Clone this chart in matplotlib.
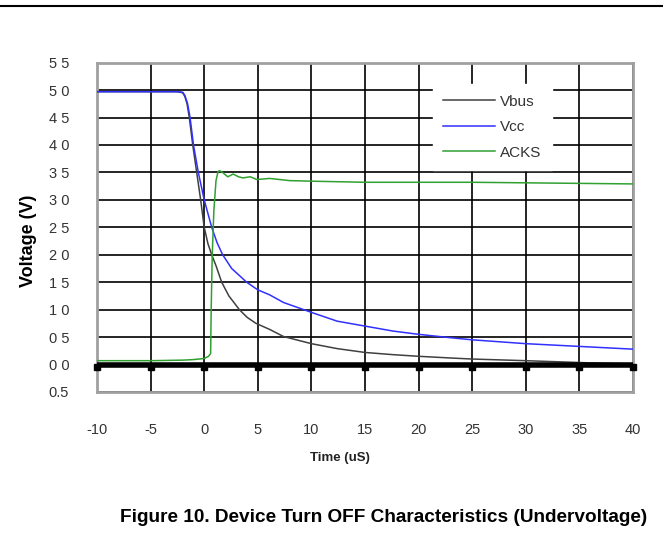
import matplotlib
matplotlib.use("Agg")
import matplotlib.pyplot as plt
import matplotlib.transforms as mtransforms
from matplotlib.lines import Line2D

plt.rcParams['font.family'] = ['Liberation Sans', 'DejaVu Sans']
plt.rcParams['axes.unicode_minus'] = False

# data (time in uS, voltage in V)
vbus_t = [-10, -5, -2.5, -2.0, -1.8, -1.6, -1.39, -1.07, -0.7, -0.33, 0.0, 0.35, 0.7,
          1.1, 1.63, 2.3, 3.28, 4.0, 4.83, 6.1, 7.4, 10, 12.4, 15, 17.6, 20, 22.9,
          25, 30, 33, 36, 40]
vbus_v = [4.97, 4.97, 4.97, 4.95, 4.88, 4.75, 4.5, 4.0, 3.5, 3.0, 2.5, 2.2, 2.0,
          1.8, 1.5, 1.25, 1.0, 0.86, 0.75, 0.64, 0.51, 0.38, 0.29, 0.22, 0.18, 0.15, 0.12,
          0.1, 0.07, 0.05, 0.03, 0.01]

vcc_t = [-10, -5, -2.5, -2.0, -1.8, -1.55, -1.32, -1.0, -0.55, 0.0, 0.35, 0.7, 1.2,
         1.72, 2.56, 3.96, 5.0, 6.1, 7.4, 10, 12.4, 15, 17.6, 20, 22.9, 25, 30, 35, 40]
vcc_v = [4.97, 4.97, 4.97, 4.96, 4.9, 4.75, 4.5, 4.0, 3.5, 3.0, 2.75, 2.5, 2.22,
         2.0, 1.75, 1.5, 1.36, 1.27, 1.13, 0.95, 0.79, 0.70, 0.61, 0.55, 0.49, 0.45, 0.38, 0.33, 0.28]

acks_t = [-10, -5, -2, -1, 0, 0.4, 0.6, 0.65, 0.75, 0.9, 1.1, 1.3, 1.45, 1.7, 2.2,
          2.7, 3.2, 3.6, 4.3, 4.9, 6.1, 8, 10, 15, 20, 25, 30, 35, 40]
acks_v = [0.07, 0.07, 0.08, 0.09, 0.11, 0.15, 0.2, 1.0, 2.0, 2.8, 3.35, 3.52, 3.53, 3.5, 3.42,
          3.47, 3.42, 3.40, 3.42, 3.37, 3.39, 3.35, 3.34, 3.32, 3.32, 3.32, 3.31, 3.30, 3.29]

x_ticks = [-10, -5, 0, 5, 10, 15, 20, 25, 30, 35, 40]
y_ticks = [5.5, 5.0, 4.5, 4.0, 3.5, 3.0, 2.5, 2.0, 1.5, 1.0, 0.5, 0.0, -0.5]
y_labels = ['5 5', '5 0', '4 5', '4 0', '3 5', '3 0', '2 5', '2 0',
            '1 5', '1 0', '0 5', '0 0', '0.5']

fig = plt.figure(figsize=(6.63, 5.56), dpi=100)
ax = fig.add_axes([0.1463, 0.295, 0.8085, 0.5924])

ax.plot(vbus_t, vbus_v, color='#404040', lw=1.1, label='Vbus', zorder=4)
ax.plot(vcc_t, vcc_v, color='#3030ff', lw=1.1, label='Vcc', zorder=4)
ax.plot(acks_t, acks_v, color='#30a030', lw=1.1, label='ACKS', zorder=4)

ax.set_xlim(-10, 40)
ax.set_ylim(-0.5, 5.5)
ax.set_xticks(x_ticks)
ax.set_yticks(y_ticks)
ax.set_yticklabels(y_labels)
ax.tick_params(length=0, labelsize=10.5, labelcolor='#333333')
ax.tick_params(axis='y', pad=20)
ax.tick_params(axis='x', pad=22)
ax.grid(True, color='black', lw=1.2)
ax.set_axisbelow(True)
for s in ax.spines.values():
    s.set_color('#a0a0a0')
    s.set_linewidth(2)

# thick zero axis with small square tick marks
ax.axhline(0, color='black', lw=4, zorder=5)
shifted = mtransforms.offset_copy(ax.transData, fig=fig, x=0, y=-2, units='dots')
ax.plot(x_ticks, [0] * len(x_ticks), 's', color='black', ms=4.5, transform=shifted,
        zorder=5, clip_on=False)

leg = ax.legend(loc='upper left', bbox_to_anchor=(0.626, 0.935), frameon=True,
                fancybox=False, edgecolor='white', framealpha=1, fontsize=11,
                handlelength=3.4, handletextpad=0.3, labelspacing=0.75,
                borderpad=0.7, borderaxespad=0)
leg.set_zorder(6)
for t in leg.get_texts():
    t.set_color('#333333')

fig.text(0.043, 0.567, 'Voltage (V)', rotation=90, ha='center', va='center',
         fontsize=13, fontweight='bold')
fig.text(0.513, 0.176, 'Time (uS)', ha='center', va='center',
         fontsize=9.5, fontweight='bold', color='#222222')
fig.text(0.579, 0.07, 'Figure 10. Device Turn OFF Characteristics (Undervoltage)',
         ha='center', va='center', fontsize=13.7, fontweight='bold')

fig.add_artist(Line2D([0, 1], [0.990, 0.990], color='black', lw=1.5))

fig.savefig('out.png', dpi=100)
